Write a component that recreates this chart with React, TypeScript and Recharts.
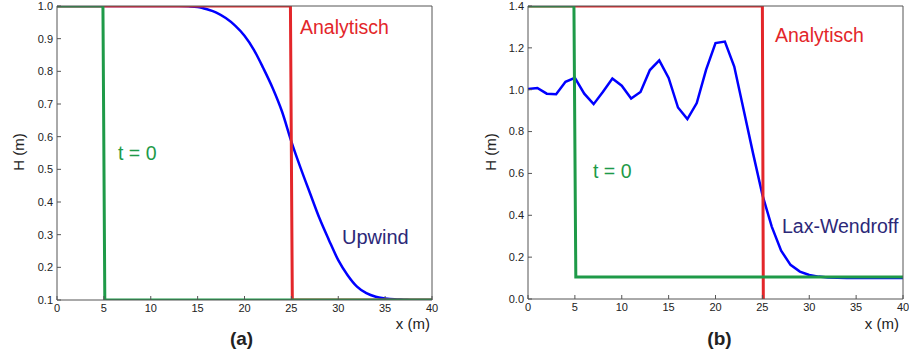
import React from "react";
import { LineChart, Line, XAxis, YAxis } from "recharts";

// grid points (m)
const xs = [
  0, 1, 2, 3, 4, 5, 6, 7, 8, 9, 10, 11, 12, 13, 14, 15, 16, 17, 18, 19, 20,
  21, 22, 23, 24, 25, 26, 27, 28, 29, 30, 31, 32, 33, 34, 35, 36, 37, 38, 39, 40,
];

// (a) upwind result
const upwindH = [
  1.0, 1.0, 1.0, 1.0, 1.0, 1.0, 1.0, 1.0, 1.0, 1.0, 1.0, 1.0, 1.0, 1.0, 0.999,
  0.997, 0.99, 0.98, 0.963, 0.94, 0.909, 0.866, 0.81, 0.749, 0.677, 0.585,
  0.503, 0.426, 0.35, 0.284, 0.222, 0.176, 0.141, 0.121, 0.11, 0.105, 0.102,
  0.101, 0.1, 0.1, 0.1,
];

// (b) Lax-Wendroff result
const laxH = [
  1.003, 1.008, 0.981, 0.978, 1.038, 1.057, 0.981, 0.931, 0.99, 1.053, 1.019,
  0.958, 0.989, 1.094, 1.14, 1.056, 0.915, 0.86, 0.936, 1.096, 1.223, 1.23,
  1.111, 0.904, 0.697, 0.498, 0.346, 0.231, 0.163, 0.131, 0.115, 0.107, 0.103,
  0.101, 0.1, 0.1, 0.1, 0.1, 0.1, 0.1, 0.1,
];

// step profiles
const initAX = [0, 4.9, 5.1, 40];
const initAH = [1.0, 1.0, 0.1, 0.1];
const anaAX = [0, 24.9, 25.1, 40];
const anaAH = [1.0, 1.0, 0.1, 0.1];

const initBX = [0, 4.9, 5.1, 40];
const initBH = [1.4, 1.4, 0.105, 0.105];
const anaBX = [0, 25.0, 25.1];
const anaBH = [1.4, 1.4, 0.0];

const xTicks = [0, 5, 10, 15, 20, 25, 30, 35, 40];
const yTicksA = [0.1, 0.2, 0.3, 0.4, 0.5, 0.6, 0.7, 0.8, 0.9, 1.0];
const yTicksB = [0, 0.2, 0.4, 0.6, 0.8, 1.0, 1.2, 1.4];

const zip = (x: number[], h: number[]) => x.map((v, i) => ({ x: v, h: h[i] }));

const RED = "#e3262a";
const GREEN = "#1e9a48";
const BLUE = "#0000ff";
const NAVY = "#2c2878";
const SPINE = "#555";
const TICK_FONT = { fontSize: 11, fill: "#222", fontFamily: "Liberation Sans, Arial, sans-serif" };

type PanelProps = {
  width: number;
  height: number;
  marginRight: number;
  yWidth: number;
  yDomain: [number, number];
  yTicks: number[];
  blue: { x: number; h: number }[];
  blueType: "monotone" | "linear";
  ana: { x: number; h: number }[];
  init: { x: number; h: number }[];
};

function Panel(p: PanelProps) {
  return (
    <LineChart
      width={p.width}
      height={p.height}
      margin={{ top: 5, right: p.marginRight, bottom: 0, left: 0 }}
    >
      <XAxis
        dataKey="x"
        type="number"
        domain={[0, 40]}
        ticks={xTicks}
        height={40}
        tickSize={-4}
        tickMargin={8}
        tick={TICK_FONT}
        stroke={SPINE}
        allowDataOverflow
      />
      <XAxis
        xAxisId="top"
        orientation="top"
        dataKey="x"
        type="number"
        domain={[0, 40]}
        ticks={xTicks}
        height={1}
        tickSize={-4}
        tick={false}
        stroke={SPINE}
      />
      <YAxis
        type="number"
        domain={p.yDomain}
        ticks={p.yTicks}
        width={p.yWidth}
        tickSize={-4}
        tickMargin={8}
        tick={TICK_FONT}
        tickFormatter={(v: number) => v.toFixed(1)}
        stroke={SPINE}
        allowDataOverflow
      />
      <YAxis
        yAxisId="right"
        orientation="right"
        type="number"
        domain={p.yDomain}
        ticks={p.yTicks}
        width={1}
        tickSize={-4}
        tick={false}
        stroke={SPINE}
      />
      <Line
        data={p.blue}
        dataKey="h"
        type={p.blueType}
        stroke={BLUE}
        strokeWidth={2.5}
        dot={false}
        activeDot={false}
        isAnimationActive={false}
      />
      <Line
        data={p.ana}
        dataKey="h"
        type="linear"
        stroke={RED}
        strokeWidth={3}
        dot={false}
        activeDot={false}
        isAnimationActive={false}
      />
      <Line
        data={p.init}
        dataKey="h"
        type="linear"
        stroke={GREEN}
        strokeWidth={3}
        dot={false}
        activeDot={false}
        isAnimationActive={false}
      />
    </LineChart>
  );
}

export default function App() {
  const label = { fontFamily: "Liberation Sans, Arial, sans-serif" };
  return (
    <div style={{ position: "absolute", left: 0, top: 0, width: 909, height: 358, background: "#fff" }}>
      <div style={{ position: "absolute", left: 0, top: 0 }}>
        <Panel
          width={440}
          height={340}
          marginRight={7}
          yWidth={57}
          yDomain={[0.1, 1.0]}
          yTicks={yTicksA}
          blue={zip(xs, upwindH)}
          blueType="monotone"
          ana={zip(anaAX, anaAH)}
          init={zip(initAX, initAH)}
        />
      </div>
      <div style={{ position: "absolute", left: 470, top: 0 }}>
        <Panel
          width={439}
          height={339}
          marginRight={5}
          yWidth={58}
          yDomain={[0, 1.4]}
          yTicks={yTicksB}
          blue={zip(xs, laxH)}
          blueType="linear"
          ana={zip(anaBX, anaBH)}
          init={zip(initBX, initBH)}
        />
      </div>
      <svg
        width={909}
        height={358}
        style={{ position: "absolute", left: 0, top: 0, pointerEvents: "none" }}
      >
        <g style={label}>
          <text x={300} y={34} fontSize={19.5} fill={RED}>Analytisch</text>
          <text x={118} y={159.5} fontSize={19.5} fill={GREEN}>t = 0</text>
          <text x={342} y={243.5} fontSize={20} fill={NAVY}>Upwind</text>
          <text x={430} y={329} fontSize={15} fill="#222" textAnchor="end">x (m)</text>
          <text x={241.5} y={345} fontSize={19} fontWeight="bold" fill="#222" textAnchor="middle">(a)</text>
          <text x={24} y={152} fontSize={15} fill="#222" textAnchor="middle" transform="rotate(-90 24 152)">H (m)</text>

          <text x={775} y={41.5} fontSize={19.5} fill={RED}>Analytisch</text>
          <text x={593} y={177.5} fontSize={19.5} fill={GREEN}>t = 0</text>
          <text x={782} y={232.5} fontSize={19.5} fill={NAVY}>Lax-Wendroff</text>
          <text x={899} y={329} fontSize={15} fill="#222" textAnchor="end">x (m)</text>
          <text x={719.5} y={345} fontSize={19} fontWeight="bold" fill="#222" textAnchor="middle">(b)</text>
          <text x={496} y={152} fontSize={15} fill="#222" textAnchor="middle" transform="rotate(-90 496 152)">H (m)</text>
        </g>
      </svg>
    </div>
  );
}
